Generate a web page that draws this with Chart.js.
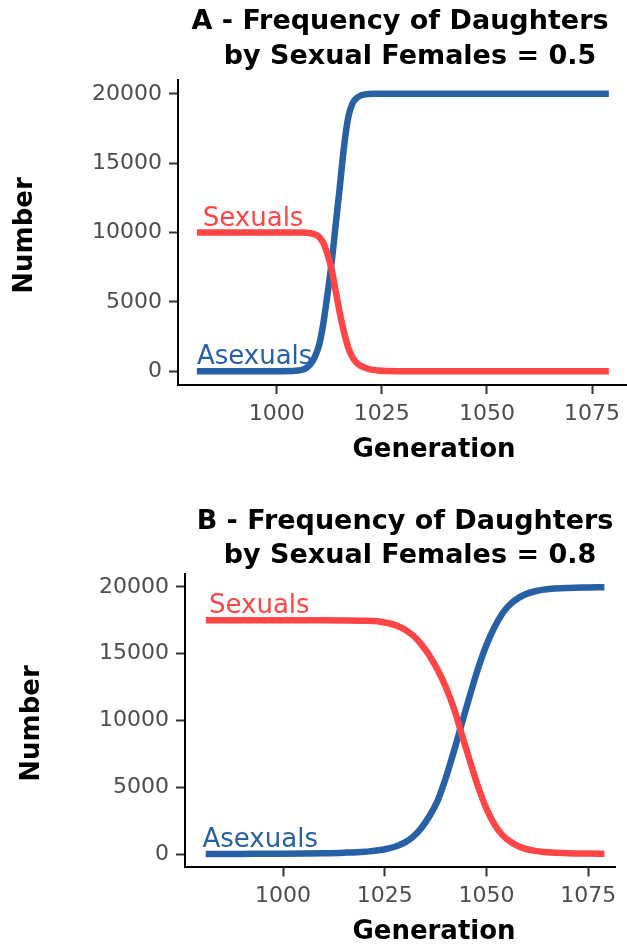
<!DOCTYPE html>
<html>
<head>
<meta charset="utf-8">
<script src="https://cdn.jsdelivr.net/npm/chart.js@4/dist/chart.umd.min.js"></script>
<style>
  html, body { margin: 0; padding: 0; background: #fff; overflow: hidden; }
  .wrap { position: absolute; left: 0; width: 627px; }
</style>
</head>
<body>
<div class="wrap" style="top:0"><canvas id="chartA" width="627" height="475"></canvas></div>
<div class="wrap" style="top:475px"><canvas id="chartB" width="627" height="474"></canvas></div>
<script>
/* two panels: sexual vs asexual numbers over generations */

const RED = '#ff4545';
const BLUE = '#2860a6';
const FONT = '"DejaVu Sans", sans-serif';

const xTicks = [1000, 1025, 1050, 1075];
const yTicks = [0, 5000, 10000, 15000, 20000];

// panel A - daughters by sexual females = 0.5
const genA = [981, 990, 1000, 1004, 1005, 1006, 1007, 1008, 1009, 1010, 1011, 1012, 1013,
  1014, 1015, 1016, 1017, 1018, 1019, 1020, 1021, 1022, 1023, 1024, 1026, 1030, 1040,
  1050, 1060, 1070, 1079];
const sexualsA = [10000, 10000, 10000, 10000, 10000, 9995, 9980, 9950, 9870, 9700, 9300,
  8500, 7400, 5800, 4200, 2800, 1700, 1000, 600, 380, 240, 150, 90, 50, 10, 0, 0,
  0, 0, 0, 0];
const asexualsA = [0, 0, 0, 10, 40, 100, 230, 500, 1000, 1800, 3300, 5400, 7700,
  10500, 13300, 16200, 18300, 19300, 19700, 19880, 19960, 19990, 20000, 20000, 20000, 20000, 20000,
  20000, 20000, 20000, 20000];

// panel B - daughters by sexual females = 0.8
const genB = [981, 990, 1000, 1005, 1010, 1015, 1020, 1022, 1024, 1026, 1028, 1030, 1032,
  1034, 1036, 1038, 1040, 1042, 1044, 1046, 1048, 1050, 1052, 1054, 1056, 1058, 1060,
  1062, 1064, 1066, 1070, 1075, 1079];
const sexualsB = [17500, 17500, 17500, 17500, 17500, 17490, 17470, 17450, 17400, 17280, 17100, 16800, 16350,
  15700, 14850, 13800, 12500, 10900, 8900, 6900, 5000, 3400, 2200, 1400, 900, 560, 360,
  240, 160, 110, 60, 35, 25];
const asexualsB = [0, 10, 25, 40, 60, 100, 170, 230, 300, 420, 600, 870, 1300,
  1950, 2850, 4000, 5700, 7700, 9850, 11950, 13950, 15650, 17000, 18050, 18750, 19200, 19500,
  19680, 19800, 19870, 19930, 19965, 19985];

const titleA = ['A - Frequency of Daughters', 'by Sexual Females = 0.5'];
const titleB = ['B - Frequency of Daughters', 'by Sexual Females = 0.8'];

function pts(gens, vals) {
  return gens.map((g, i) => ({ x: g, y: vals[i] }));
}

// draws titles, axis titles and the in-plot series labels
const textPlugin = {
  id: 'texts',
  afterDraw(chart, args, o) {
    const ctx = chart.ctx;
    const ca = chart.chartArea;
    const sx = chart.scales.x, sy = chart.scales.y;
    ctx.save();
    ctx.textAlign = 'center';
    ctx.textBaseline = 'middle';
    ctx.fillStyle = '#000';
    ctx.font = 'bold 27px ' + FONT;
    o.title.forEach((t, i) => ctx.fillText(t, o.titleX[i], o.titleY[i]));

    ctx.font = 'bold 26px ' + FONT;
    ctx.fillText('Generation', 434, ca.bottom + 65);
    ctx.translate(ca.left - 153, (ca.top + ca.bottom) / 2 + 3);
    ctx.rotate(-Math.PI / 2);
    ctx.fillText('Number', 0, 0);
    ctx.restore();

    ctx.save();
    ctx.font = '26px ' + FONT;
    ctx.textAlign = 'left';
    ctx.textBaseline = 'alphabetic';
    o.labels.forEach(l => {
      ctx.fillStyle = l.color;
      ctx.fillText(l.text, sx.getPixelForValue(l.gen), sy.getPixelForValue(l.value) - 7);
    });
    ctx.restore();
  }
};

function makeChart(id, gens, sexuals, asexuals, opt) {
  const axisCommon = {
    type: 'linear',
    border: { display: true, color: '#000', width: 2 },
    grid: { drawOnChartArea: false, drawTicks: true, tickLength: 9, tickWidth: 2, tickColor: '#333' },
    ticks: { color: '#4d4d4d', font: { family: FONT, size: 22 }, padding: 7, callback: v => String(v) },
  };
  return new Chart(document.getElementById(id), {
    type: 'line',
    data: {
      datasets: [
        { label: 'Sexuals', data: pts(gens, sexuals), borderColor: RED },
        { label: 'Asexuals', data: pts(gens, asexuals), borderColor: BLUE },
      ],
    },
    options: {
      responsive: false,
      animation: false,
      devicePixelRatio: 1,
      layout: { padding: { top: opt.top, right: opt.right, left: 0, bottom: 0 } },
      elements: {
        point: { radius: 0 },
        line: { borderWidth: 6.5, cubicInterpolationMode: 'monotone', borderCapStyle: 'butt' },
      },
      plugins: {
        legend: { display: false },
        tooltip: { enabled: false },
        texts: { title: opt.title, titleX: opt.titleX, titleY: opt.titleY, labels: [
          { text: 'Sexuals', gen: opt.sexLabelGen, value: sexuals[0], color: RED },
          { text: 'Asexuals', gen: opt.asexLabelGen, value: asexuals[0], color: BLUE },
        ] },
      },
      scales: {
        x: {
          ...axisCommon, min: opt.xMin, max: opt.xMax,
          afterBuildTicks: s => { s.ticks = xTicks.map(v => ({ value: v })); },
          afterFit: s => { s.height = opt.xAxisH; },
        },
        y: {
          ...axisCommon, min: -1000, max: 21000,
          afterBuildTicks: s => { s.ticks = yTicks.map(v => ({ value: v })); },
          afterFit: s => { s.width = opt.yAxisW; },
        },
      },
    },
    plugins: [textPlugin],
  });
}

makeChart('chartA', genA, sexualsA, asexualsA, {
  top: 80, right: 0, xAxisH: 90, yAxisW: 178, xMin: 976.5, xMax: 1083.1,
  title: titleA, titleX: [400, 410], titleY: [22, 57],
  sexLabelGen: 982.4, asexLabelGen: 981,
});
makeChart('chartB', genB, sexualsB, asexualsB, {
  top: 98.6, right: 12, xAxisH: 81.6, yAxisW: 185, xMin: 975.9, xMax: 1081.6,
  title: titleB, titleX: [405, 410], titleY: [47, 81],
  sexLabelGen: 981.8, asexLabelGen: 980.2,
});
</script>
</body>
</html>
